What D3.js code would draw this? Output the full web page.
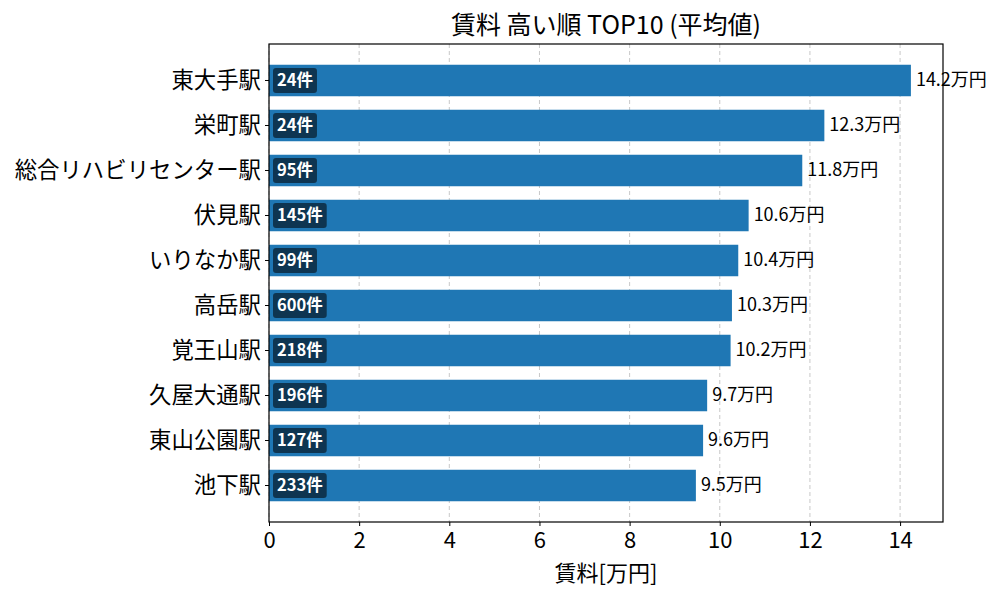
<!DOCTYPE html>
<html>
<head>
<meta charset="utf-8">
<script src="https://cdn.jsdelivr.net/npm/d3@7"></script>
<style>
  body { margin: 0; background: #fff; }
  text { font-family: "Noto Sans CJK JP", "Noto Sans", sans-serif; }
</style>
</head>
<body>
<div id="vis"></div>
<script>
const stations = ["東大手駅", "栄町駅", "総合リハビリセンター駅", "伏見駅", "いりなか駅",
  "高岳駅", "覚王山駅", "久屋大通駅", "東山公園駅", "池下駅"]
const rents = [14.24, 12.32, 11.83, 10.64, 10.41, 10.27, 10.24, 9.72, 9.63, 9.47]
const counts = [24, 24, 95, 145, 99, 600, 218, 196, 127, 233]
const xTicks = [0, 2, 4, 6, 8, 10, 12, 14]

const width = 1000
const height = 600
const plotLeft = 269, plotRight = 943, plotTop = 44, plotBottom = 522

var svg = d3.select("#vis")
  .append("svg")
  .attr("width", width)
  .attr("height", height)

var x = d3.scaleLinear()
  .domain([0, d3.max(rents) * 1.05])
  .range([plotLeft, plotRight])

var y = d3.scaleBand()
  .domain(stations)
  .range([plotTop, plotBottom])
  .paddingInner(0.3)
  .paddingOuter(0.461)

// grid
svg.append("g")
  .selectAll("line")
  .data(xTicks)
  .join("line")
  .attr("x1", d => x(d)).attr("x2", d => x(d))
  .attr("y1", plotTop).attr("y2", plotBottom)
  .attr("stroke", "#c8c8c8")
  .attr("stroke-width", 1)
  .attr("stroke-dasharray", "4,3")

// bars
svg.append("g")
  .selectAll("rect")
  .data(stations)
  .join("rect")
  .attr("x", x(0))
  .attr("y", d => y(d))
  .attr("width", (d, i) => x(rents[i]) - x(0))
  .attr("height", y.bandwidth())
  .attr("fill", "#1f77b4")

// value labels
svg.append("g")
  .selectAll("text")
  .data(stations)
  .join("text")
  .attr("x", (d, i) => x(rents[i]) + 5)
  .attr("y", d => y(d) + y.bandwidth() / 2)
  .attr("dy", "0.3em")
  .attr("font-size", "18px")
  .attr("fill", "#000")
  .text((d, i) => rents[i].toFixed(1) + "万円")

// count badges
const badges = svg.append("g")
  .selectAll("g")
  .data(stations)
  .join("g")
  .attr("transform", d => `translate(${x(0) + 4},${y(d) + y.bandwidth() / 2})`)

badges.append("text")
  .attr("x", 4)
  .attr("dy", "0.35em")
  .attr("font-size", "16.5px")
  .attr("font-weight", "bold")
  .attr("fill", "#fff")
  .text((d, i) => counts[i] + "件")

badges.insert("rect", "text")
  .attr("x", 0)
  .attr("y", -12.5)
  .attr("height", 25)
  .attr("width", function () {
    return this.parentNode.querySelector("text").getComputedTextLength() + 8
  })
  .attr("rx", 3)
  .attr("fill", "#000")
  .attr("fill-opacity", 0.55)

// frame
svg.append("rect")
  .attr("x", plotLeft).attr("y", plotTop)
  .attr("width", plotRight - plotLeft).attr("height", plotBottom - plotTop)
  .attr("fill", "none")
  .attr("stroke", "#000")
  .attr("stroke-width", 1.2)

// axes
var xAxis = svg.append("g")
  .attr("transform", `translate(0,${plotBottom})`)
  .call(d3.axisBottom(x).tickValues(xTicks).tickFormat(d3.format("d")).tickSizeOuter(0).tickSize(4))
xAxis.select(".domain").remove()
xAxis.selectAll("text")
  .attr("font-size", "22px")
  .attr("y", 7)
  .attr("dy", "0.85em")
  .attr("fill", "#000")

var yAxis = svg.append("g")
  .attr("transform", `translate(${plotLeft},0)`)
  .call(d3.axisLeft(y).tickSizeOuter(0).tickSize(4))
yAxis.select(".domain").remove()
yAxis.selectAll("text")
  .attr("font-size", "22.4px")
  .attr("x", -8)
  .attr("fill", "#000")

// title and axis label
svg.append("text")
  .attr("x", (plotLeft + plotRight) / 2)
  .attr("y", 34)
  .attr("text-anchor", "middle")
  .attr("font-size", "25px")
  .text("賃料 高い順 TOP10 (平均値)")

svg.append("text")
  .attr("x", (plotLeft + plotRight) / 2)
  .attr("y", 581)
  .attr("text-anchor", "middle")
  .attr("font-size", "22px")
  .text("賃料[万円]")
</script>
</body>
</html>
